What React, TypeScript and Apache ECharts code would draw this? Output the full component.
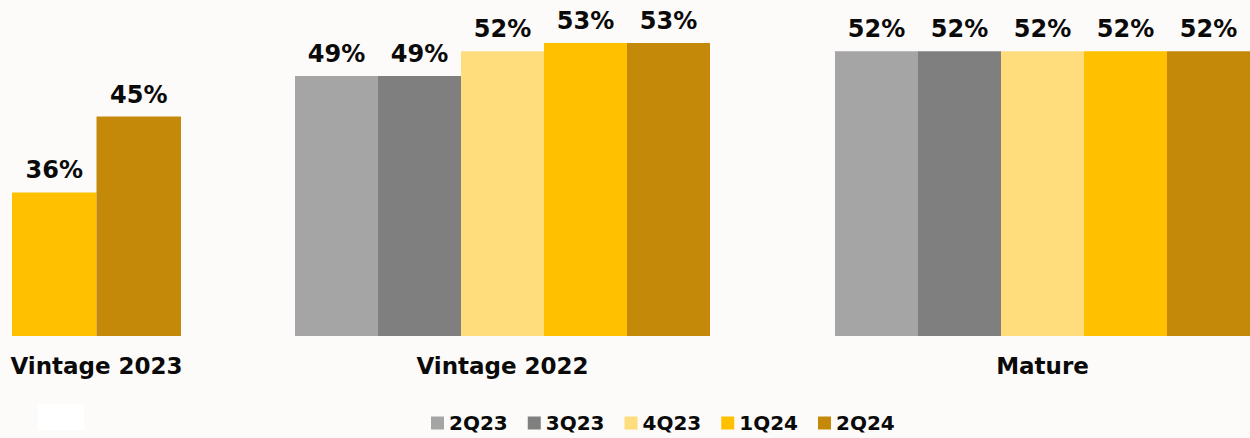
import React, { useEffect, useRef } from "react";
import * as echarts from "echarts";

const groups = ["Vintage 2023", "Vintage 2022", "Mature"];
const quarters = ["2Q23", "3Q23", "4Q23", "1Q24", "2Q24"];
const colors = ["#a5a5a5", "#7f7f7f", "#ffdc7c", "#ffc000", "#c5890a"];
const v2Q23: (number | null)[] = [null, 49, 52];
const v3Q23: (number | null)[] = [null, 49, 52];
const v4Q23: (number | null)[] = [null, 52, 52];
const v1Q24: (number | null)[] = [36, 53, 52];
const v2Q24: (number | null)[] = [45, 53, 52];
const values = [v2Q23, v3Q23, v4Q23, v1Q24, v2Q24];
const axisMin = [19, 17.5, 17.5];
const axisMax = [58.8, 58.2, 58.2];

const FONT = "DejaVu Sans";

export default function App() {
  const ref = useRef<HTMLDivElement>(null);
  useEffect(() => {
    const chart = echarts.init(ref.current!, undefined, { renderer: "svg" });
    const gridPos = [
      { left: 12, width: 169 },
      { left: 295, width: 415 },
      { left: 835, width: 415 },
    ];
    const series: any[] = [];
    groups.forEach((g, gi) => {
      quarters.forEach((q, qi) => {
        const v = values[qi][gi];
        if (v === null || v === undefined) return;
        series.push({
          type: "bar",
          name: q,
          xAxisIndex: gi,
          yAxisIndex: gi,
          data: [v],
          barGap: "0%",
          barCategoryGap: "0%",
          itemStyle: { color: colors[qi] },
          label: {
            show: true,
            position: "top",
            distance: 10,
            formatter: "{c}%",
            fontFamily: FONT,
            fontWeight: "bold",
            fontSize: 24,
            color: "#0a0a0a",
          },
        });
      });
    });
    chart.setOption({
      animation: false,
      backgroundColor: "#fcfbf9",
      grid: gridPos.map((p) => ({ left: p.left, width: p.width, top: 0, height: 336 })),
      xAxis: groups.map((g, gi) => ({
        type: "category",
        gridIndex: gi,
        data: [g],
        name: g,
        nameLocation: "middle",
        nameGap: 18,
        nameTextStyle: { fontFamily: FONT, fontWeight: "bold", fontSize: 23, color: "#0a0a0a" },
        axisLine: { show: false },
        axisTick: { show: false },
        axisLabel: { show: false },
      })),
      yAxis: groups.map((g, gi) => ({
        type: "value",
        gridIndex: gi,
        min: axisMin[gi],
        max: axisMax[gi],
        show: false,
        splitLine: { show: false },
      })),
      legend: {
        data: quarters.map((q, qi) => ({ name: q, itemStyle: { color: colors[qi] } })),
        left: 426,
        top: 408,
        icon: "rect",
        itemWidth: 13,
        itemHeight: 13,
        itemGap: 20,
        textStyle: { fontFamily: FONT, fontWeight: "bold", fontSize: 20, color: "#0a0a0a" },
      },
      graphic: [
        { type: "rect", shape: { x: 38, y: 404, width: 46, height: 26 }, style: { fill: "#ffffff" } },
      ],
      series,
    });
    return () => chart.dispose();
  }, []);
  return (
    <div
      ref={ref}
      style={{ position: "fixed", left: 0, top: 0, width: 1250, height: 438 }}
    />
  );
}
